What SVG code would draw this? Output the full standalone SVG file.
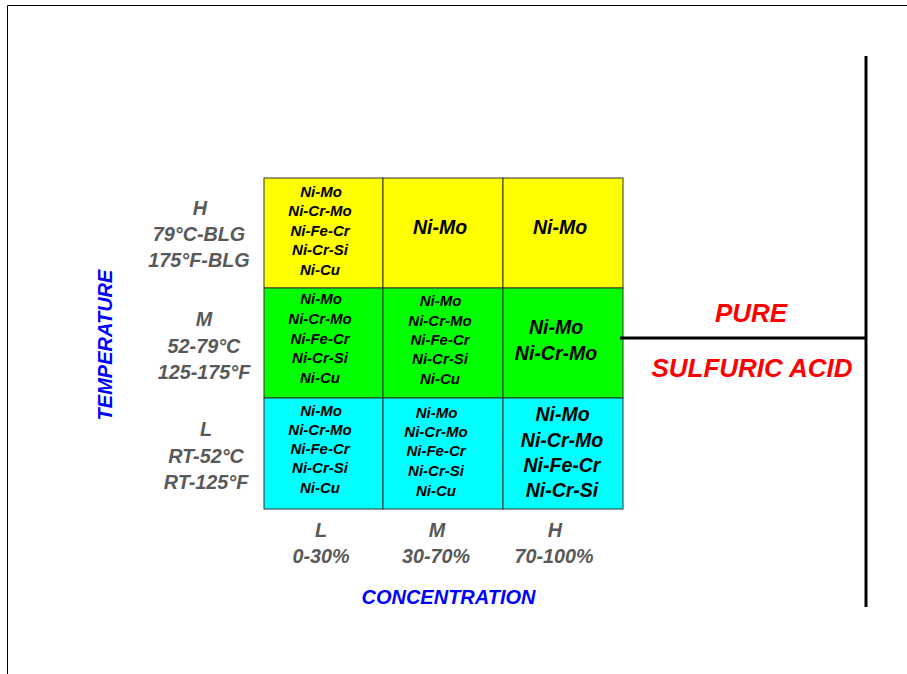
<svg xmlns="http://www.w3.org/2000/svg" width="907" height="674" viewBox="0 0 907 674">
<style>
text{font-family:"Liberation Sans",Arial,sans-serif;font-weight:bold;font-style:italic;text-anchor:middle}
.s{font-size:15px;fill:#000}
.b{font-size:19.5px;fill:#000}
.g{font-size:19.8px;fill:#595959}
.ax{font-size:20px;fill:#0000FF}
.red{font-size:26px;fill:#FF0000}
.cell{stroke:#333;stroke-width:1}
.line{stroke:#000;stroke-width:3;fill:none}
</style>
<rect width="907" height="674" fill="#fff"/>
<path d="M7.5,674 V5.5 H907" fill="none" stroke="#000" stroke-width="1"/>

<g id="cell-H-L">
<rect class="cell" x="264" y="178" width="119" height="110" fill="#FFFF00"/>
<text class="s" x="321" y="196.5">Ni-Mo</text>
<text class="s" x="320" y="216">Ni-Cr-Mo</text>
<text class="s" x="320" y="235.5">Ni-Fe-Cr</text>
<text class="s" x="320" y="255">Ni-Cr-Si</text>
<text class="s" x="320" y="274.5">Ni-Cu</text>
</g>
<g id="cell-H-M">
<rect class="cell" x="383" y="178" width="120" height="110" fill="#FFFF00"/>
<text class="b" x="440" y="234">Ni-Mo</text>
</g>
<g id="cell-H-H">
<rect class="cell" x="503" y="178" width="120" height="110" fill="#FFFF00"/>
<text class="b" x="560" y="234">Ni-Mo</text>
</g>

<g id="cell-M-L">
<rect class="cell" x="264" y="288" width="119" height="110" fill="#00FF00"/>
<text class="s" x="321" y="304">Ni-Mo</text>
<text class="s" x="320" y="324">Ni-Cr-Mo</text>
<text class="s" x="320" y="343.5">Ni-Fe-Cr</text>
<text class="s" x="320" y="362.5">Ni-Cr-Si</text>
<text class="s" x="320" y="382.5">Ni-Cu</text>
</g>
<g id="cell-M-M">
<rect class="cell" x="383" y="288" width="120" height="110" fill="#00FF00"/>
<text class="s" x="440.5" y="305.5">Ni-Mo</text>
<text class="s" x="440" y="325.5">Ni-Cr-Mo</text>
<text class="s" x="440" y="345">Ni-Fe-Cr</text>
<text class="s" x="440" y="364">Ni-Cr-Si</text>
<text class="s" x="440" y="384">Ni-Cu</text>
</g>
<g id="cell-M-H">
<rect class="cell" x="503" y="288" width="120" height="110" fill="#00FF00"/>
<text class="b" x="556" y="334">Ni-Mo</text>
<text class="b" x="556" y="360">Ni-Cr-Mo</text>
</g>

<g id="cell-L-L">
<rect class="cell" x="264" y="398" width="119" height="111" fill="#00FFFF"/>
<text class="s" x="321" y="415.5">Ni-Mo</text>
<text class="s" x="320" y="435">Ni-Cr-Mo</text>
<text class="s" x="320" y="454">Ni-Fe-Cr</text>
<text class="s" x="320" y="473">Ni-Cr-Si</text>
<text class="s" x="320" y="493">Ni-Cu</text>
</g>
<g id="cell-L-M">
<rect class="cell" x="383" y="398" width="120" height="111" fill="#00FFFF"/>
<text class="s" x="436.5" y="417.5">Ni-Mo</text>
<text class="s" x="436" y="437">Ni-Cr-Mo</text>
<text class="s" x="436" y="456">Ni-Fe-Cr</text>
<text class="s" x="436" y="475.5">Ni-Cr-Si</text>
<text class="s" x="436" y="495.5">Ni-Cu</text>
</g>
<g id="cell-L-H">
<rect class="cell" x="503" y="398" width="120" height="111" fill="#00FFFF"/>
<text class="b" x="562.5" y="421">Ni-Mo</text>
<text class="b" x="562" y="446.5">Ni-Cr-Mo</text>
<text class="b" x="562" y="471.5">Ni-Fe-Cr</text>
<text class="b" x="562" y="497">Ni-Cr-Si</text>
</g>

<g id="temp-H">
<text class="g" x="200" y="215">H</text>
<text class="g" x="199" y="241">79°C-BLG</text>
<text class="g" x="199" y="266.5">175°F-BLG</text>
</g>
<g id="temp-M">
<text class="g" x="204" y="326">M</text>
<text class="g" x="204" y="353">52-79°C</text>
<text class="g" x="204" y="379">125-175°F</text>
</g>
<g id="temp-L">
<text class="g" x="206" y="436">L</text>
<text class="g" x="206" y="463">RT-52°C</text>
<text class="g" x="206" y="489">RT-125°F</text>
</g>

<g id="conc-L">
<text class="g" x="321" y="536.5">L</text>
<text class="g" x="321" y="562.5">0-30%</text>
</g>
<g id="conc-M">
<text class="g" x="437" y="536.5">M</text>
<text class="g" x="436" y="562.5">30-70%</text>
</g>
<g id="conc-H">
<text class="g" x="555" y="536.5">H</text>
<text class="g" x="554" y="562.5">70-100%</text>
</g>

<g id="axis-temperature">
<text class="ax" transform="translate(111.5,345) rotate(-90)" x="0" y="0">TEMPERATURE</text>
</g>
<g id="axis-concentration">
<text class="ax" x="448.5" y="604">CONCENTRATION</text>
</g>

<g id="acid-label">
<text class="red" x="751" y="322">PURE</text>
<text class="red" x="752" y="377">SULFURIC ACID</text>
</g>

<g id="connectors">
<line class="line" x1="866" y1="56" x2="866" y2="607"/>
<line class="line" x1="620" y1="338" x2="866" y2="338"/>
</g>
</svg>
